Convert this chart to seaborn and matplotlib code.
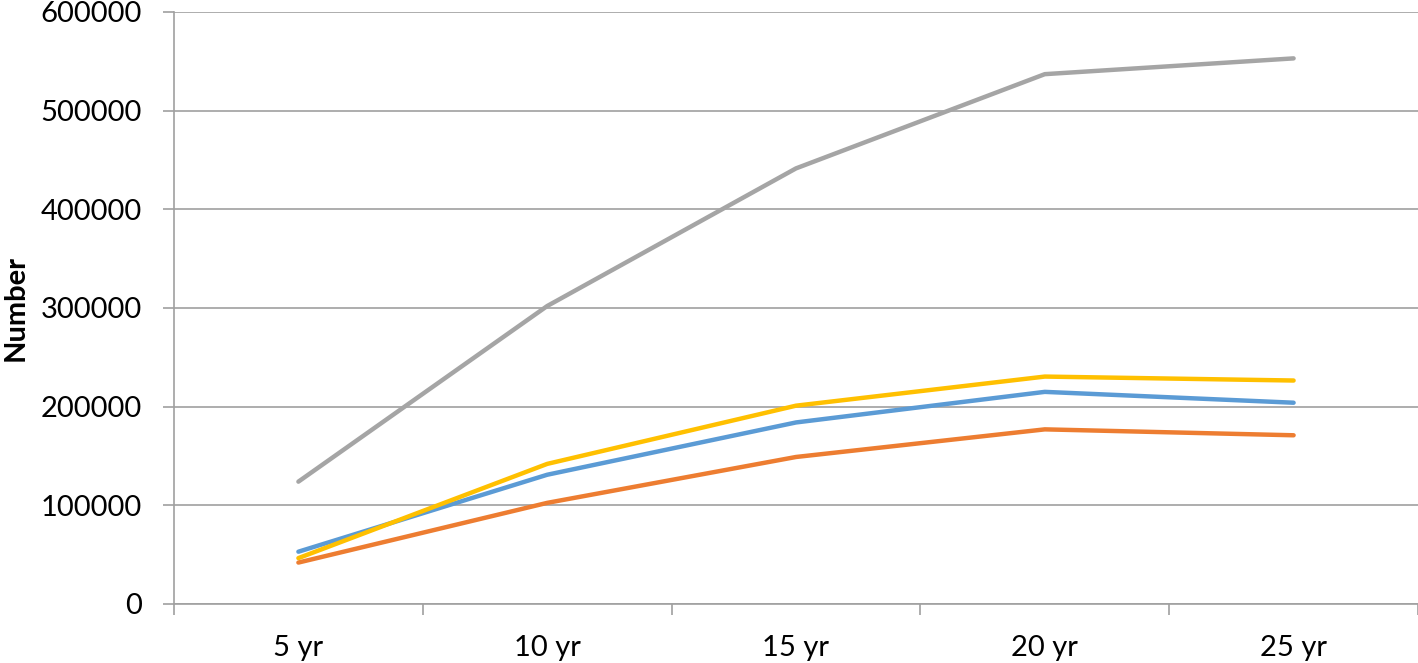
import matplotlib
matplotlib.use('Agg')
import matplotlib.pyplot as plt
import seaborn as sns
import pandas as pd
import numpy as np

sns.set_theme(style='white')
plt.rcParams['font.family'] = ['Lato', 'DejaVu Sans']

# ── Data ──────────────────────────────────────────────
periods = ['5 yr', '10 yr', '15 yr', '20 yr', '25 yr']
series_names = ['Series 1', 'Series 2', 'Series 3', 'Series 4']
blue_vals   = [53000, 131000, 184000, 215000, 204000]
orange_vals = [42000, 102500, 149000, 177000, 171000]
gray_vals   = [124000, 302000, 441500, 537000, 553000]
yellow_vals = [46500, 142000, 201000, 230500, 226500]
colors = ['#5B9BD5', '#ED7D31', '#A5A5A5', '#FFC000']

df = pd.DataFrame({
    'period': periods * 4,
    'pos': list(range(len(periods))) * 4,
    'series': np.repeat(series_names, len(periods)),
    'value': blue_vals + orange_vals + gray_vals + yellow_vals,
})

fig = plt.figure(figsize=(14.18, 6.63), dpi=100)
ax = fig.add_axes([174 / 1418, (663 - 604) / 663, (1418 - 174) / 1418, (604 - 12) / 663])

sns.lineplot(data=df, x='pos', y='value', hue='series', palette=colors,
             linewidth=3.2, ax=ax, legend=False, sort=False)

ax.set_xlim(-0.5, len(periods) - 0.5)
ax.set_ylim(0, 600000)
ax.set_yticks(np.arange(0, 600001, 100000))
ax.set_yticklabels([str(v) for v in range(0, 600001, 100000)], fontsize=21, color='black')
ax.set_xticks(range(len(periods)))
ax.set_xticklabels(periods, fontsize=21, color='black')
ax.set_xticks(np.arange(-0.5, len(periods), 1.0), minor=True)

gc = '#A0A0A0'
ax.grid(axis='y', color=gc, linewidth=1.2)
ax.set_axisbelow(True)
for s in ['top', 'right']:
    ax.spines[s].set_visible(False)
for s in ['left', 'bottom']:
    ax.spines[s].set_color(gc)
    ax.spines[s].set_linewidth(1.2)

ax.tick_params(axis='y', which='major', length=8, width=1.2, color=gc, pad=15, left=True)
ax.tick_params(axis='x', which='major', length=0, pad=22)
ax.tick_params(axis='x', which='minor', length=8, width=1.2, color=gc, bottom=True)

ax.set_xlabel('')
ax.set_ylabel('Number', fontsize=21, fontweight='bold', color='black', labelpad=9)

fig.savefig('out.png', dpi=100)
